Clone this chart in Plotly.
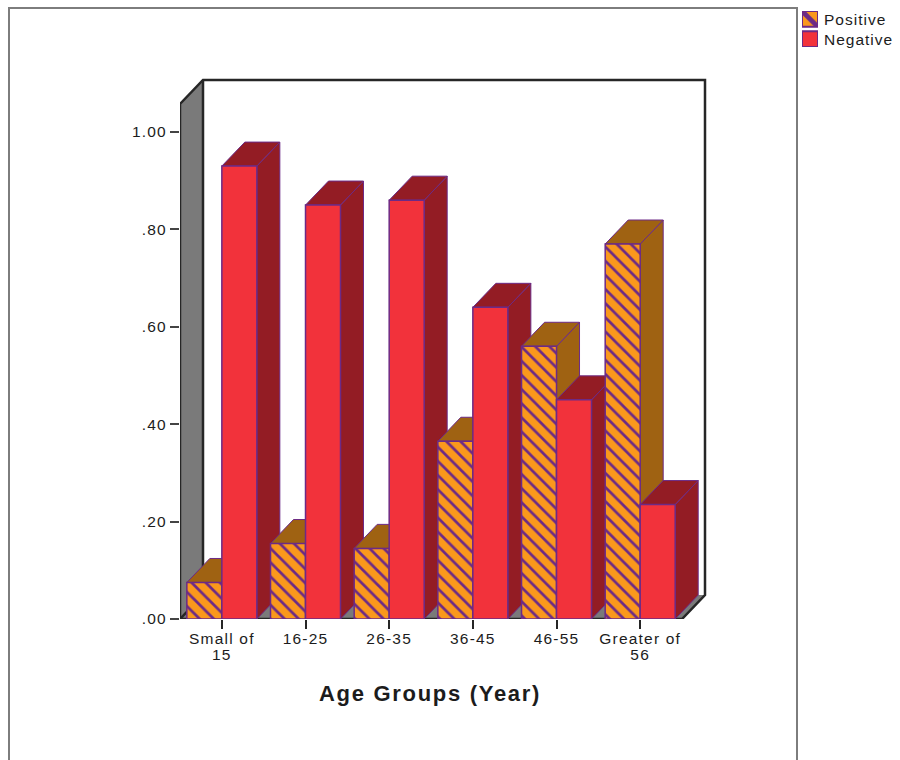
import plotly.graph_objects as go

categories = ["Small of<br>15", "16-25", "26-35", "36-45", "46-55", "Greater of<br>56"]
positive = [0.075, 0.155, 0.145, 0.365, 0.56, 0.77]
negative = [0.93, 0.85, 0.86, 0.64, 0.45, 0.235]
y_ticks = [0, 0.2, 0.4, 0.6, 0.8, 1.0]
y_labels = [".00", ".20", ".40", ".60", ".80", "1.00"]
series_names = ["Positive", "Negative"]
x_title = "Age Groups (Year)"

W, H = 900, 760
PAD = 4
LEFT, RIGHT, BOTTOM, TOP = 180, 705, 619, 80
CAT_PX = 83.67
UNIT_PX = 487.0
BAR_W = 35 / CAT_PX
DX = 23 / CAT_PX
DY = 24 / UNIT_PX
X0 = -0.5
X1 = X0 + (RIGHT - LEFT) / CAT_PX
YMAX = (BOTTOM - TOP) / UNIT_PX
FONT = "Liberation Sans"
TEXT = "#1c1c1c"
PURPLE = "#6c2a86"
ORANGE = "#fa981c"
ORANGE_D = "#9f6212"
RED = "#f2323b"
RED_D = "#931c24"
GRAY = "#7a7a7a"
DARK = "#262626"


def styled(txt, size, spacing):
    return "<br>".join(
        f'<span style="font-size:{size}px;letter-spacing:{spacing}px">{p}</span>'
        for p in txt.split("<br>")
    )


fig = go.Figure()


def poly(xs, ys, fill, line=None, width=1.5, pattern=None, xaxis="x", yaxis="y"):
    fig.add_trace(go.Scatter(
        x=xs, y=ys, mode="lines", fill="toself", fillcolor=fill,
        fillpattern=pattern,
        line=dict(color=line or fill, width=width if line else 0),
        hoverinfo="skip", showlegend=False, xaxis=xaxis, yaxis=yaxis,
        cliponaxis=False,
    ))


def edge(xs, ys):
    fig.add_trace(go.Scatter(
        x=xs, y=ys, mode="lines", line=dict(color=DARK, width=2.5),
        hoverinfo="skip", showlegend=False, cliponaxis=False,
    ))


# walls and floor
xr = X0 + 6
poly([X0, X0 + DX, X0 + DX, X0, X0], [0, DY, YMAX, YMAX - DY, 0], GRAY)
poly([X0, xr, xr + DX, X0 + DX, X0], [0, 0, DY, DY, 0], GRAY)
edge([X0, X0, X0 + DX, X1, X1, xr, X0], [0, YMAX - DY, YMAX, YMAX, DY, 0, 0])
edge([X0 + DX, X0 + DX], [YMAX, DY])
edge([X0, X0 + DX], [0, DY])

pat_bar = dict(shape="\\", size=10, solidity=0.27, fgcolor=PURPLE, bgcolor=ORANGE, fillmode="replace")
pat_leg = dict(shape="\\", size=16, solidity=0.3, fgcolor=PURPLE, bgcolor=ORANGE, fillmode="replace")


def box3d(x0, v, front, dark, pattern=None, name=None):
    x1 = x0 + BAR_W
    poly([x1, x1 + DX, x1 + DX, x1, x1], [0, DY, v + DY, v, 0], dark, PURPLE, 1)
    poly([x0, x1, x1 + DX, x0 + DX, x0], [v, v, v + DY, v + DY, v], dark, PURPLE, 1)
    poly([x0, x1, x1, x0, x0], [0, 0, v, v, 0], front, PURPLE, 1.5, pattern)
    fig.data[-1].name = name


for i, (p, n) in enumerate(zip(positive, negative)):
    box3d(i - BAR_W, p, ORANGE, ORANGE_D, pat_bar, series_names[0])
    box3d(i, n, RED, RED_D, None, series_names[1])

# legend swatches
poly([0, 1, 1, 0, 0], [0.56, 0.56, 1, 1, 0.56], ORANGE, PURPLE, 2, pat_leg, "x2", "y2")
poly([0, 1, 1, 0, 0], [0, 0, 0.44, 0.44, 0], RED, PURPLE, 2, None, "x2", "y2")

fig.update_layout(
    width=W, height=H, margin=dict(l=0, r=0, t=0, b=0),
    paper_bgcolor="white", plot_bgcolor="white", showlegend=False,
    font=dict(family=FONT, color=TEXT),
    xaxis=dict(
        domain=[LEFT / W, (RIGHT + PAD) / W], range=[X0, X1 + PAD / CAT_PX], tickmode="array",
        tickvals=list(range(len(categories))),
        ticktext=[styled(c, 15.5, 1.2) for c in categories],
        tickfont=dict(size=12.4, color=TEXT), ticks="outside", ticklen=9,
        tickwidth=1.5, tickcolor=DARK, showgrid=False, zeroline=False, showline=False,
        automargin=False,
    ),
    yaxis=dict(
        domain=[1 - BOTTOM / H, 1 - (TOP - PAD) / H], range=[0, YMAX + PAD / UNIT_PX], tickmode="array",
        tickvals=y_ticks, ticktext=[styled(t, 15.5, 1.2) for t in y_labels],
        tickfont=dict(size=15.5, color=TEXT), ticks="outside", ticklen=9,
        tickwidth=1.5, tickcolor="#444444", showgrid=False, zeroline=False, showline=False,
        automargin=False,
    ),
    xaxis2=dict(domain=[802 / W, 818 / W], range=[0, 1], visible=False, anchor="y2", fixedrange=True),
    yaxis2=dict(domain=[1 - 47 / H, 1 - 11 / H], range=[0, 1], visible=False, anchor="x2", fixedrange=True),
    shapes=[dict(
        type="path", xref="paper", yref="paper",
        path=f"M {9 / W} -0.1 L {9 / W} {1 - 8 / H} L {797 / W} {1 - 8 / H} L {797 / W} -0.1",
        line=dict(color="#7d7d7d", width=2),
    )],
    annotations=[
        dict(xref="paper", yref="paper", x=430 / W, y=1 - 693 / H, showarrow=False,
             xanchor="center", yanchor="middle",
             text=f'<b>{styled(x_title, 22, 1.7)}</b>', font=dict(size=22, color=TEXT)),
        dict(xref="paper", yref="paper", x=823 / W, y=1 - 20 / H, showarrow=False,
             xanchor="left", yanchor="middle", text=styled(series_names[0], 15.5, 1.0),
             font=dict(size=15.5, color=TEXT), xshift=-1),
        dict(xref="paper", yref="paper", x=823 / W, y=1 - 40 / H, showarrow=False,
             xanchor="left", yanchor="middle", text=styled(series_names[1], 15.5, 1.0),
             font=dict(size=15.5, color=TEXT), xshift=-1),
    ],
)

fig.write_html("out.html", post_script="document.body.style.margin='0';",
               config={"displayModeBar": False})
